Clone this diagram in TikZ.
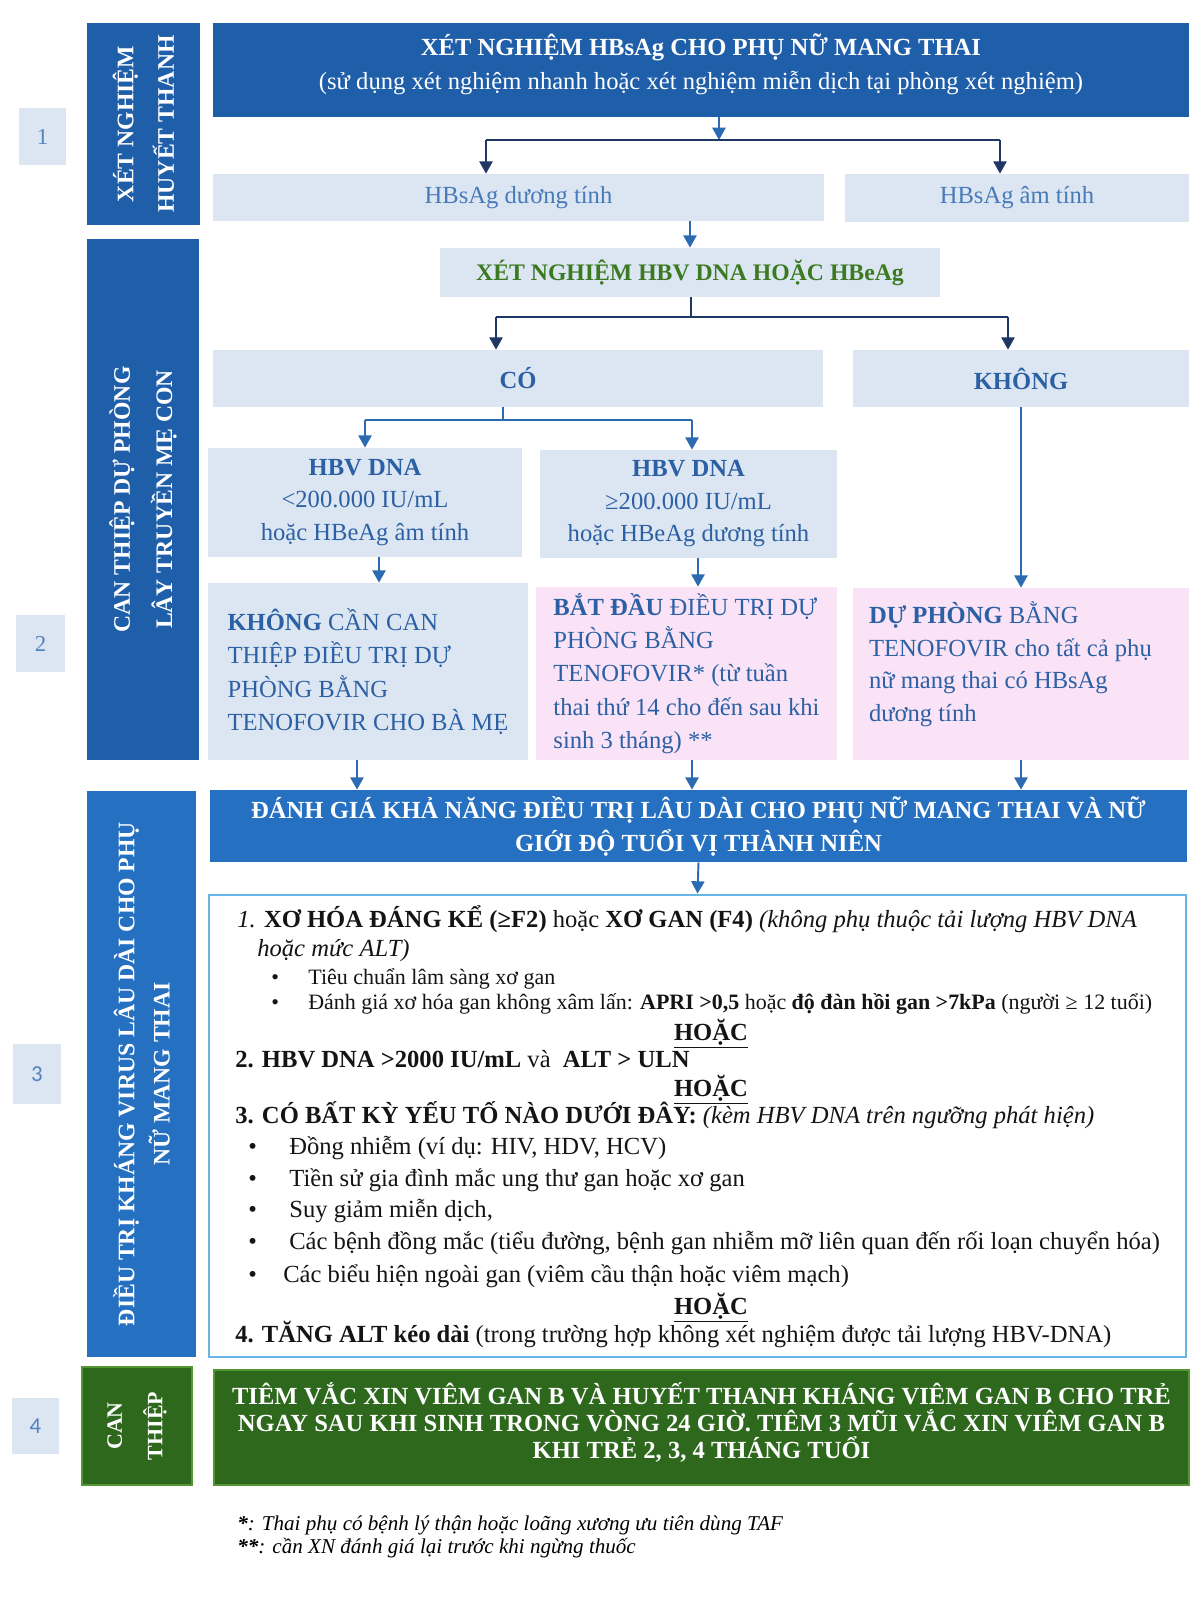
\documentclass[tikz,border=0pt]{standalone}
\usepackage{fontspec}
\setmainfont{Liberation Serif}
\newfontfamily\numfont{Carlito}
\usetikzlibrary{arrows.meta}
\usepackage{xcolor}
\definecolor{bandblue}{RGB}{31,94,168}
\definecolor{evalblue}{RGB}{37,112,192}
\definecolor{lightbox}{RGB}{220,230,242}
\definecolor{pinkbox}{RGB}{250,227,246}
\definecolor{greenbox}{RGB}{45,104,28}
\definecolor{greenedge}{RGB}{84,150,52}
\definecolor{boxtext}{RGB}{44,96,164}
\definecolor{softtext}{RGB}{72,122,184}
\definecolor{greentext}{RGB}{60,122,34}
\definecolor{arrownavy}{RGB}{30,55,100}
\definecolor{arrowblue}{RGB}{44,106,178}
\definecolor{critedge}{RGB}{104,182,228}
\definecolor{numtext}{RGB}{84,130,190}
\definecolor{crittext}{RGB}{20,20,20}
\newcommand{\setfs}[2]{\fontsize{#1}{#2}\selectfont}

\tikzset{
  sz/.style 2 args={minimum width=#1*0.02cm, minimum height=#2*0.02cm},
  darkbox/.style={fill=bandblue, text=white, inner sep=0pt, align=center},
  bandbox/.style={darkbox, rotate=90, font=\setfs{13.5}{23}},
  lightnode/.style={fill=lightbox, text=boxtext, inner sep=0pt, align=center, font=\setfs{14}{18.5}},
  pinknode/.style={fill=pinkbox, text=boxtext, inner sep=0pt, align=left, font=\setfs{14}{19}},
  numbox/.style={fill=lightbox, text=numtext, inner sep=0pt, font=\setfs{13}{15}},
  critline/.style={anchor=west, inner sep=0pt, text=crittext, text height=10pt, text depth=3pt, font=\setfs{14}{16}},
  critsmall/.style={critline, font=\setfs{12.5}{14}},
  orline/.style={critline, anchor=center, font=\bfseries\setfs{14}{16}},
  conn/.style={draw=arrowblue, line width=1.1pt},
  connarrow/.style={conn, -{Triangle[width=7.5pt,length=7pt]}},
  navyline/.style={conn, draw=arrownavy},
  navyarrow/.style={connarrow, draw=arrownavy}
}

\begin{document}
\begin{tikzpicture}[x=0.02cm, y=-0.02cm]
\fill[white] (0,0) rectangle (1200,1600);

% step numbers
\node[numbox, sz={47}{57}] (num1) at (42.5,136.5) {1};
\node[numbox, sz={49}{57}] (num2) at (40.5,643.5) {2};
\node[numbox, sz={48}{60}, font=\numfont\setfs{13}{15}] (num3) at (37,1074) {3};
\node[numbox, sz={47}{56}, font=\numfont\setfs{13}{15}] (num4) at (35.5,1426) {4};

% left bands
\node[bandbox, sz={202}{113}] (band1) at (143.5,124) {\textbf{XÉT NGHIỆM}\\\textbf{HUYẾT THANH}};
\node[bandbox, sz={521}{112}, font=\setfs{13.5}{24}] (band2) at (143,499.5) {\textbf{CAN THIỆP DỰ PHÒNG}\\\textbf{LÂY TRUYỀN MẸ CON}};
\node[bandbox, sz={566}{109}, fill=evalblue, font=\setfs{13.5}{20}] (band3) at (141.5,1074) {\textbf{ĐIỀU TRỊ KHÁNG VIRUS LÂU DÀI CHO PHỤ}\\\textbf{NỮ MANG THAI}};
\node[bandbox, sz={118}{110}, fill=greenbox, draw=greenedge, line width=1.5pt, font=\setfs{12.5}{23}] (band4) at (137,1426) {\textbf{CAN}\\\textbf{THIỆP}};

% step 1 and 2
\node[darkbox, sz={976}{94}] (test) at (701,70) {};
\node[text=white, align=center, inner sep=0pt, font=\setfs{14}{19.5}] (testtext) at ([yshift=0.11cm]test.center)
  {\textbf{XÉT NGHIỆM HBsAg CHO PHỤ NỮ MANG THAI}\\(sử dụng xét nghiệm nhanh hoặc xét nghiệm miễn dịch tại phòng xét nghiệm)};
\node[lightnode, sz={611}{47}, text=softtext] (pos) at (518.5,197.5) {HBsAg dương tính};
\node[lightnode, sz={344}{48}, text=softtext] (neg) at (1017,198) {HBsAg âm tính};
\node[lightnode, sz={500}{49}, text=greentext, font=\bfseries\setfs{13.5}{16}] (dna) at (690,272.5) {XÉT NGHIỆM HBV DNA HOẶC HBeAg};
\node[lightnode, sz={610}{57}, font=\bfseries\setfs{14}{16}] (yes) at (518,378.5) {CÓ};
\node[lightnode, sz={336}{57}, font=\bfseries\setfs{14}{16}] (no) at (1021,378.5) {KHÔNG};
\node[lightnode, sz={314}{109}] (low) at (365,502.5) {\textbf{HBV DNA}\\<200.000 IU/mL\\hoặc HBeAg âm tính};
\node[lightnode, sz={297}{108}] (high) at (688.5,504) {\textbf{HBV DNA}\\≥200.000 IU/mL\\hoặc HBeAg dương tính};
\node[lightnode, sz={320}{177}, align=left, font=\setfs{14}{19}] (nocare) at (368,671.5)
  {\textbf{KHÔNG} CẦN CAN\\THIỆP ĐIỀU TRỊ DỰ\\PHÒNG BẰNG\\TENOFOVIR CHO BÀ MẸ};
\node[pinknode, sz={301}{173}] (start) at (686.5,673.5)
  {\textbf{BẮT ĐẦU} ĐIỀU TRỊ DỰ\\PHÒNG BẰNG\\TENOFOVIR* (từ tuần\\thai thứ 14 cho đến sau khi\\sinh 3 tháng) **};
\node[pinknode, sz={336}{172}] (proph) at (1021,674) {};
\node[pinknode, fill=none, anchor=north west, font=\setfs{14}{18.5}] (prophtext) at ([xshift=0.32cm, yshift=-0.28cm]proph.north west)
  {\textbf{DỰ PHÒNG} BẰNG\\TENOFOVIR cho tất cả phụ\\nữ mang thai có HBsAg\\dương tính};

% step 3
\node[darkbox, fill=evalblue, sz={977}{72}, font=\bfseries\setfs{14}{18.8}] (eval) at (698.5,826)
  {ĐÁNH GIÁ KHẢ NĂNG ĐIỀU TRỊ LÂU DÀI CHO PHỤ NỮ MANG THAI VÀ NỮ\\GIỚI ĐỘ TUỔI VỊ THÀNH NIÊN};
\node[draw=critedge, line width=1.6pt, fill=white, sz={977}{462}] (crit) at (697.5,1126) {};
\node[critline] (c1) at (237,921) {\textit{1.} \textbf{XƠ HÓA ĐÁNG KỂ (≥F2)} hoặc \textbf{XƠ GAN (F4)} \textit{(không phụ thuộc tải lượng HBV DNA}};
\node[critline] (c1b) at (257,950) {\textit{hoặc mức ALT)}};
\node[critsmall] (c1s1) at (271,978) {\makebox[0.74cm][l]{•}Tiêu chuẩn lâm sàng xơ gan};
\node[critsmall] (c1s2) at (271,1003) {\makebox[0.74cm][l]{•}Đánh giá xơ hóa gan không xâm lấn: \textbf{APRI >0,5} hoặc \textbf{độ đàn hồi gan >7kPa} (người ≥ 12 tuổi)};
\node[orline] (or1) at (711,1034) {\underline{HOẶC}};
\node[critline] (c2) at (235,1061) {\textbf{2. HBV DNA >2000 IU/mL} và \ \textbf{ALT > ULN}};
\node[orline] (or2) at (711,1090) {\underline{HOẶC}};
\node[critline] (c3) at (235,1117) {\textbf{3. CÓ BẤT KỲ YẾU TỐ NÀO DƯỚI ĐÂY:} \textit{(kèm HBV DNA trên ngưỡng phát hiện)}};
\node[critline] (c3s1) at (248,1148) {\makebox[0.82cm][l]{•}Đồng nhiễm (ví dụ: HIV, HDV, HCV)};
\node[critline] (c3s2) at (248,1180) {\makebox[0.82cm][l]{•}Tiền sử gia đình mắc ung thư gan hoặc xơ gan};
\node[critline] (c3s3) at (248,1211) {\makebox[0.82cm][l]{•}Suy giảm miễn dịch,};
\node[critline] (c3s4) at (248,1243) {\makebox[0.82cm][l]{•}Các bệnh đồng mắc (tiểu đường, bệnh gan nhiễm mỡ liên quan đến rối loạn chuyển hóa)};
\node[critline] (c3s5) at (248,1276) {\makebox[0.7cm][l]{•}Các biểu hiện ngoài gan (viêm cầu thận hoặc viêm mạch)};
\node[orline] (or3) at (711,1308) {\underline{HOẶC}};
\node[critline] (c4) at (235,1336) {\textbf{4. TĂNG ALT kéo dài} (trong trường hợp không xét nghiệm được tải lượng HBV-DNA)};

% step 4
\node[fill=greenbox, draw=greenedge, line width=1.5pt, sz={975}{115}] (vaccine) at (701.5,1427.5) {};
\node[text=white, align=center, inner sep=0pt, font=\bfseries\setfs{14}{15.6}] (vaccinetext) at ([yshift=0.1cm]vaccine.center)
  {TIÊM VẮC XIN VIÊM GAN B VÀ HUYẾT THANH KHÁNG VIÊM GAN B CHO TRẺ\\NGAY SAU KHI SINH TRONG VÒNG 24 GIỜ. TIÊM 3 MŨI VẮC XIN VIÊM GAN B\\KHI TRẺ 2, 3, 4 THÁNG TUỔI};
\node[anchor=west, inner sep=0pt, font=\itshape\setfs{12}{14}] (note1) at (237,1525) {\textbf{*}: Thai phụ có bệnh lý thận hoặc loãng xương ưu tiên dùng TAF};
\node[anchor=west, inner sep=0pt, font=\itshape\setfs{12}{14}] (note2) at (237,1548) {\textbf{**}: cần XN đánh giá lại trước khi ngừng thuốc};

% connectors
\coordinate (split1) at (719,140);
\coordinate (split1l) at (486,140);
\coordinate (split1r) at (1000,140);
\draw[connarrow] (test.south -| split1) -- (split1);
\draw[navyline] (split1l) -- (split1r);
\draw[navyarrow] (split1l) -- (split1l |- pos.north);
\draw[navyarrow] (split1r) -- (split1r |- neg.north);
\draw[connarrow] (pos.south -| dna.north) -- (dna.north);

\coordinate (split2) at (691,317);
\coordinate (split2l) at (496,317);
\coordinate (split2r) at (1008,317);
\draw[navyline] (dna.south -| split2) -- (split2);
\draw[navyline] (split2l) -- (split2r);
\draw[navyarrow] (split2l) -- (split2l |- yes.north);
\draw[navyarrow] (split2r) -- (split2r |- no.north);

\coordinate (split3) at (503,420);
\coordinate (split3l) at (365,420);
\coordinate (split3r) at (692,420);
\draw[conn] (yes.south -| split3) -- (split3);
\draw[conn] (split3l) -- (split3r);
\draw[connarrow] (split3l) -- (split3l |- low.north);
\draw[connarrow] (split3r) -- (split3r |- high.north);

\coordinate (colA) at (379,0);
\coordinate (colB) at (698,0);
\coordinate (colC) at (357,0);
\coordinate (colD) at (692,0);
\draw[connarrow] (low.south -| colA) -- (nocare.north -| colA);
\draw[connarrow] (high.south -| colB) -- (start.north -| colB);
\draw[connarrow] (no.south) -- (proph.north);
\draw[connarrow] (nocare.south -| colC) -- (eval.north -| colC);
\draw[connarrow] (start.south -| colD) -- (eval.north -| colD);
\draw[connarrow] (proph.south) -- (eval.north -| proph.south);
\draw[connarrow] (eval.south) -- (crit.north);
\end{tikzpicture}
\end{document}
